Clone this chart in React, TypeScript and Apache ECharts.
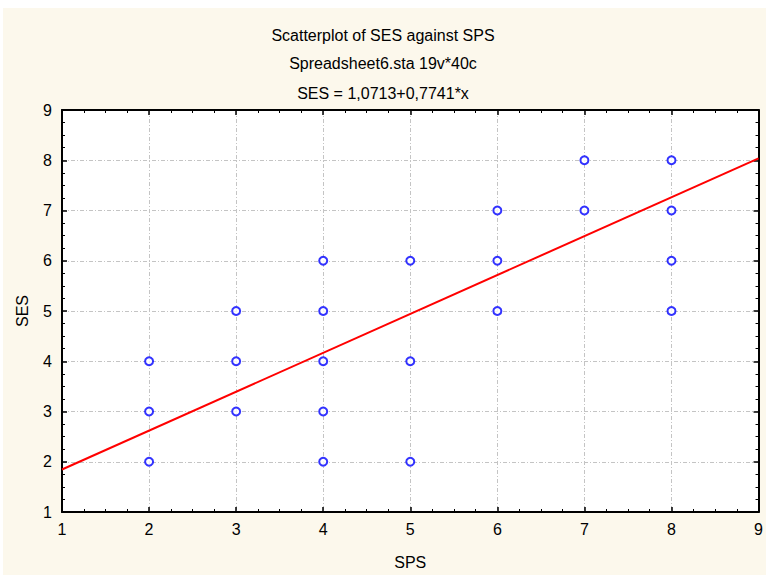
import React, { useEffect, useRef } from "react";
import * as echarts from "echarts";

const titleLines = [
  "Scatterplot of SES against SPS",
  "Spreadsheet6.sta 19v*40c",
  "SES = 1,0713+0,7741*x",
];
const xName = "SPS";
const yName = "SES";

const spsValues = [2, 2, 2, 3, 3, 3, 4, 4, 4, 4, 4, 5, 5, 5, 6, 6, 6, 7, 7, 8, 8, 8, 8];
const sesValues = [2, 3, 4, 3, 4, 5, 2, 3, 4, 5, 6, 2, 4, 6, 5, 6, 7, 7, 8, 5, 6, 7, 8];

const intercept = 1.0713;
const slope = 0.7741;
const axisMin = 1;
const axisMax = 9;

const FONT = "'Liberation Sans', Arial, sans-serif";

export default function App() {
  const ref = useRef<HTMLDivElement>(null);

  useEffect(() => {
    document.body.style.margin = "0";
    if (!ref.current) return;
    const chart = echarts.init(ref.current, null, { renderer: "svg" });

    const points = spsValues.map((x, i) => [x, sesValues[i]]);
    const fitLine = [
      [axisMin, intercept + slope * axisMin],
      [axisMax, intercept + slope * axisMax],
    ];

    const gridLine = {
      show: true,
      lineStyle: { color: "#c4c4c4", width: 1, type: [4, 2, 1, 2] as any },
    };
    const axisLine = { show: true, onZero: false, lineStyle: { color: "#000", width: 2 } };
    const majorTick = { show: true, inside: true, length: 5, lineStyle: { color: "#000", width: 1.5 } };
    const minorTick = { show: true, splitNumber: 4, length: 3, lineStyle: { color: "#000", width: 1 } };
    const label = { color: "#000", fontSize: 16, fontFamily: FONT };

    chart.setOption({
      animation: false,
      backgroundColor: "#fcf8ec",
      textStyle: { fontFamily: FONT },
      graphic: [
        { type: "rect", shape: { x: 0, y: 0, width: 766, height: 8 }, style: { fill: "#ffffff" }, silent: true },
        { type: "rect", shape: { x: 0, y: 0, width: 3, height: 575 }, style: { fill: "#ffffff" }, silent: true },
      ],
      title: titleLines.map((t, i) => ({
        text: t,
        left: "center",
        top: [22, 50, 80][i],
        textStyle: { fontSize: 16, fontWeight: "normal", color: "#000", fontFamily: FONT },
      })),
      grid: {
        left: 62,
        right: 6,
        top: 110,
        bottom: 60,
        show: true,
        backgroundColor: "#ffffff",
        borderWidth: 0,
      },
      xAxis: [
        {
          type: "value",
          position: "bottom",
          min: axisMin,
          max: axisMax,
          interval: 1,
          name: xName,
          nameLocation: "middle",
          nameGap: 42,
          nameTextStyle: { color: "#000", fontSize: 16, fontFamily: FONT },
          axisLine,
          axisTick: majorTick,
          minorTick,
          axisLabel: { ...label, margin: 9 },
          splitLine: gridLine,
        },
        {
          type: "value",
          position: "top",
          min: axisMin,
          max: axisMax,
          interval: 1,
          axisLine,
          axisTick: majorTick,
          minorTick,
          axisLabel: { show: false },
          splitLine: { show: false },
        },
      ],
      yAxis: [
        {
          type: "value",
          position: "left",
          min: axisMin,
          max: axisMax,
          interval: 1,
          name: yName,
          nameLocation: "middle",
          nameGap: 32,
          nameTextStyle: { color: "#000", fontSize: 16, fontFamily: FONT },
          axisLine,
          axisTick: majorTick,
          minorTick,
          axisLabel: { ...label, margin: 10 },
          splitLine: gridLine,
        },
        {
          type: "value",
          position: "right",
          min: axisMin,
          max: axisMax,
          interval: 1,
          axisLine,
          axisTick: majorTick,
          minorTick,
          axisLabel: { show: false },
          splitLine: { show: false },
        },
      ],
      series: [
        {
          type: "scatter",
          data: points,
          symbol: "emptyCircle",
          symbolSize: 8,
          itemStyle: { color: "#0000ff", borderColor: "#0000ff", borderWidth: 1.3 },
          z: 3,
        },
        {
          type: "line",
          data: fitLine,
          showSymbol: false,
          symbol: "none",
          lineStyle: { color: "#ff0000", width: 2 },
          z: 4,
        },
      ],
    });

    return () => chart.dispose();
  }, []);

  return <div ref={ref} style={{ width: 766, height: 575 }} />;
}
